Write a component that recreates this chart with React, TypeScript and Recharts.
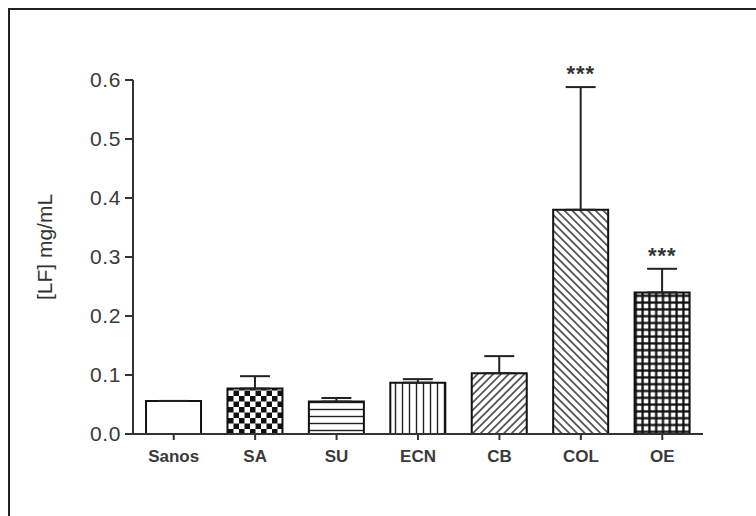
import React from "react";
import { ComposedChart, Bar, Cell, XAxis, YAxis, ErrorBar, Line, LabelList } from "recharts";

const categories = ["Sanos", "SA", "SU", "ECN", "CB", "COL", "OE"];
const means = [0.056, 0.077, 0.055, 0.087, 0.103, 0.38, 0.24];
const sems = [0, 0.021, 0.006, 0.006, 0.029, 0.208, 0.04];
const stars = ["", "", "", "", "", "***", "***"];
const yTicks = [0, 0.1, 0.2, 0.3, 0.4, 0.5, 0.6];
const fills = ["#fff", "url(#pChecker)", "url(#pHoriz)", "url(#pVert)", "url(#pDiagUp)", "url(#pDiagDown)", "url(#pGrid)"];

const data = categories.map((c, i) => ({
  name: c,
  mean: means[i],
  err: [0, sems[i]],
  top: stars[i] ? means[i] + sems[i] : null,
  star: stars[i],
}));

const FONT = "Liberation Sans, Arial, sans-serif";

const StarLabel = (props: any) => {
  const { x, y, value } = props;
  if (!value || y == null) return null;
  return (
    <text x={x} y={y - 6} textAnchor="middle" fontSize={22} fontWeight="bold" letterSpacing={1} fill="#333" fontFamily={FONT}>
      {value}
    </text>
  );
};

const YLabel = () => (
  <text transform="translate(52,247) rotate(-90)" textAnchor="middle" fontSize={21} fill="#333" fontFamily={FONT}>
    [LF] mg/mL
  </text>
);

export default function App() {
  return (
    <div style={{ position: "absolute", left: 0, top: 0, width: 756, height: 516, background: "#fff" }}>
      <svg width={0} height={0} style={{ position: "absolute" }}>
        <defs>
          <pattern id="pChecker" patternUnits="userSpaceOnUse" width={11} height={11} x={228} y={0}>
            <rect width={11} height={11} fill="#fff" />
            <rect x={0} y={0} width={5.5} height={5.5} fill="#111" />
            <rect x={5.5} y={5.5} width={5.5} height={5.5} fill="#111" />
          </pattern>
          <pattern id="pHoriz" patternUnits="userSpaceOnUse" width={7} height={7}>
            <rect width={7} height={7} fill="#fff" />
            <line x1={0} y1={3.5} x2={7} y2={3.5} stroke="#222" strokeWidth={1.4} />
          </pattern>
          <pattern id="pVert" patternUnits="userSpaceOnUse" width={7} height={7}>
            <rect width={7} height={7} fill="#fff" />
            <line x1={3.5} y1={0} x2={3.5} y2={7} stroke="#222" strokeWidth={1.4} />
          </pattern>
          <pattern id="pDiagUp" patternUnits="userSpaceOnUse" width={5.5} height={5.5} patternTransform="rotate(-45)">
            <rect width={5.5} height={5.5} fill="#fff" />
            <line x1={0} y1={2.75} x2={5.5} y2={2.75} stroke="#333" strokeWidth={1.5} />
          </pattern>
          <pattern id="pDiagDown" patternUnits="userSpaceOnUse" width={5.5} height={5.5} patternTransform="rotate(45)">
            <rect width={5.5} height={5.5} fill="#fff" />
            <line x1={0} y1={2.75} x2={5.5} y2={2.75} stroke="#333" strokeWidth={1.5} />
          </pattern>
          <pattern id="pGrid" patternUnits="userSpaceOnUse" width={6.8} height={6.8}>
            <rect width={6.8} height={6.8} fill="#fff" />
            <line x1={0} y1={3.4} x2={6.8} y2={3.4} stroke="#111" strokeWidth={2.3} />
            <line x1={3.4} y1={0} x2={3.4} y2={6.8} stroke="#111" strokeWidth={2.3} />
          </pattern>
        </defs>
      </svg>
      <div style={{ position: "absolute", left: 8, top: 8, right: 0, bottom: 0, borderLeft: "2px solid #222", borderTop: "2px solid #222" }} />
      <div style={{ position: "absolute", left: 0, top: 0 }}>
        <ComposedChart width={756} height={516} data={data} margin={{ top: 80, right: 53, bottom: 52, left: 33 }} barCategoryGap="16%">
          <XAxis
            dataKey="name"
            height={30}
            axisLine={{ stroke: "#333", strokeWidth: 2 }}
            tickLine={{ stroke: "#333", strokeWidth: 2 }}
            tickSize={6}
            tickMargin={10}
            tick={{ fontSize: 17, fontWeight: "bold", fill: "#3a3a3a", fontFamily: FONT }}
          />
          <YAxis
            width={100}
            domain={[0, 0.6]}
            ticks={yTicks}
            tickFormatter={(v: number) => v.toFixed(1)}
            axisLine={{ stroke: "#333", strokeWidth: 2 }}
            tickLine={{ stroke: "#333", strokeWidth: 2 }}
            tickSize={8}
            tickMargin={4}
            tick={{ fontSize: 21, fill: "#3a3a3a", fontFamily: FONT, letterSpacing: 0.6 }}
            label={<YLabel />}
          />
          <Bar dataKey="mean" stroke="#111" strokeWidth={2} isAnimationActive={false}>
            {data.map((d, i) => (
              <Cell key={d.name} fill={fills[i]} />
            ))}
            <ErrorBar dataKey="err" width={15} stroke="#222" strokeWidth={2} direction="y" />
          </Bar>
          <Line dataKey="top" stroke="none" dot={false} activeDot={false} isAnimationActive={false}>
            <LabelList dataKey="star" content={<StarLabel />} />
          </Line>
        </ComposedChart>
      </div>
    </div>
  );
}
